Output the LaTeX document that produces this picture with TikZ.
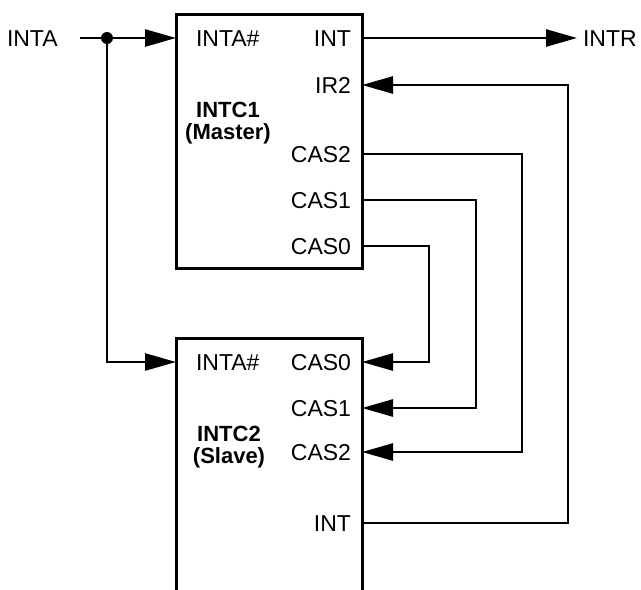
\documentclass[tikz,border=0pt]{standalone}
\usepackage{fontspec}
\setmainfont{Liberation Sans}
\usetikzlibrary{shapes,arrows.meta}

\begin{document}
\begin{tikzpicture}[x=1pt, y=-1pt]%
  \tikzset{normal arrow/.style={draw,-{Triangle[length=31pt,width=17pt]},line width=2.6pt}}
  \tikzset{chip/.style={draw, rectangle, line width=3pt, minimum width=186pt}}
  \tikzstyle{every node}=[draw=none, inner sep=0pt, outer sep=0pt, font=\fontsize{23}{23}\selectfont]
  \tikzstyle{pin label}=[text height=16pt, text depth=0pt]

  \useasboundingbox (0,0) rectangle (641,590);

  \node[chip, minimum height=254pt] at (269,141) (INTC1) {};
  \node[chip, minimum height=282pt] at (269,479) (INTC2) {};% bottom is cut off
  \node[align=center, font=\fontsize{22}{22}\selectfont\bfseries] at (228,123) (name1) {INTC1\\(Master)};
  \node[align=center, font=\fontsize{22}{22}\selectfont\bfseries] at (229,447) (name2) {INTC2\\(Slave)};

  % master pins
  \node[pin label, anchor=west] at (196,38) (lINTA1) {INTA\#};
  \node[pin label, anchor=east] at (351,38) (lINT1) {INT};
  \node[pin label, anchor=east] at (351,85) (lIR2) {IR2};
  \node[pin label, anchor=east] at (351,154) (lCAS21) {CAS2};
  \node[pin label, anchor=east] at (351,200) (lCAS11) {CAS1};
  \node[pin label, anchor=east] at (351,246) (lCAS01) {CAS0};
  % slave pins
  \node[pin label, anchor=west] at (196,362) (lINTA2) {INTA\#};
  \node[pin label, anchor=east] at (351,362) (lCAS02) {CAS0};
  \node[pin label, anchor=east] at (351,408) (lCAS12) {CAS1};
  \node[pin label, anchor=east] at (351,452) (lCAS22) {CAS2};
  \node[pin label, anchor=east] at (351,523) (lINT2) {INT};

  \node[pin label, anchor=west] at (7,38) (INTA) {INTA};
  \node[pin label, anchor=west] at (583,38) (INTR) {INTR};
  \coordinate (split) at (107,38);

  \path[normal arrow, shorten <=22pt] (INTA.east) -- (INTC1.west |- lINTA1);
  \path[normal arrow] (split) |- (INTC2.west |- lINTA2);
  \fill (split) circle (6pt);
  \path[normal arrow, shorten >=6pt] (INTC1.east |- lINT1) -- (INTR.west);

  \path[normal arrow] (INTC1.east |- lCAS01) -- ++(67,0) |- (INTC2.east |- lCAS02);
  \path[normal arrow] (INTC1.east |- lCAS11) -- ++(114,0) |- (INTC2.east |- lCAS12);
  \path[normal arrow] (INTC1.east |- lCAS21) -- ++(160,0) |- (INTC2.east |- lCAS22);
  \path[normal arrow] (INTC2.east |- lINT2) -- ++(206,0) |- (INTC1.east |- lIR2);
\end{tikzpicture}
\end{document}
